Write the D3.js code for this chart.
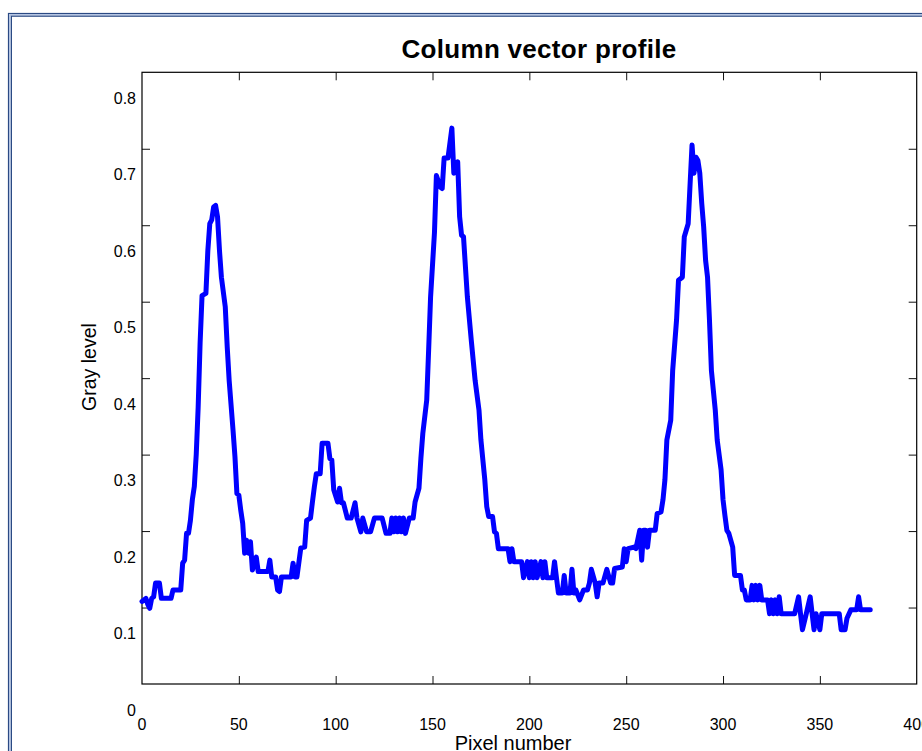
<!DOCTYPE html>
<html>
<head>
<meta charset="utf-8">
<script src="https://cdn.jsdelivr.net/npm/d3@7"></script>
<style>
  html, body { margin: 0; padding: 0; background: #fff; }
  svg { display: block; }
</style>
</head>
<body>
<svg id="chart" width="922" height="751"></svg>
<script>
// Column profile samples: pixel position along the column and its gray level
const pixelIndex = [
  0,2,3,4,5,6,7,9,10,15,
  16,20,21,22,23,24,25,26,27,28,
  29,30,31,33,34,35,36,37,38,39,
  40,41,43,44,45,47,48,49,50,51,
  52,53,54,55,56,57,59,60,65,66,
  67,69,70,71,72,77,78,79,80,82,
  84,85,87,88,89,90,92,93,96,97,
  98,99,101,102,103,104,106,108,110,111,
  113,114,116,118,120,124,126,128,129,130,
  131,132,133,134,135,136,138,140,141,143,
  144,145,147,148,149,151,152,154,155,156,
  158,160,161,163,164,165,166,168,170,172,
  174,175,176,177,178,179,181,182,183,184,
  189,190,191,192,196,197,199,200,201,202,
  203,204,206,207,208,209,212,213,214,215,
  217,218,219,221,222,223,224,226,228,230,
  231,232,234,235,236,238,240,242,243,244,
  248,249,250,251,254,255,257,258,259,260,
  261,262,265,266,268,269,270,271,273,274,
  276,277,279,280,282,283,284,285,286,287,
  288,289,290,291,292,293,294,296,297,299,
  300,301,302,303,305,306,309,310,311,312,
  314,315,316,317,318,319,320,323,324,325,
  326,327,328,329,330,337,339,340,341,343,
  345,346,347,348,350,351,360,361,363,364,
  366,369,370,371,376
];
const grayLevel = [
  0.108,0.112,0.104,0.099,0.112,0.114,0.132,0.132,0.112,0.112,
  0.123,0.123,0.158,0.162,0.197,0.197,0.214,0.241,0.258,0.300,
  0.362,0.446,0.508,0.511,0.567,0.602,0.607,0.624,0.626,0.611,
  0.567,0.532,0.493,0.441,0.397,0.332,0.297,0.249,0.247,0.227,
  0.210,0.171,0.188,0.171,0.186,0.149,0.166,0.147,0.147,0.162,
  0.140,0.140,0.123,0.121,0.140,0.140,0.158,0.140,0.140,0.178,
  0.179,0.214,0.217,0.238,0.258,0.275,0.275,0.315,0.315,0.295,
  0.293,0.254,0.238,0.256,0.237,0.237,0.217,0.217,0.237,0.217,
  0.199,0.217,0.199,0.199,0.217,0.217,0.197,0.197,0.217,0.199,
  0.217,0.199,0.217,0.199,0.217,0.197,0.217,0.217,0.238,0.256,
  0.295,0.328,0.371,0.437,0.506,0.590,0.665,0.650,0.648,0.688,
  0.688,0.727,0.668,0.683,0.611,0.587,0.585,0.506,0.450,0.397,
  0.358,0.319,0.293,0.267,0.232,0.219,0.219,0.199,0.197,0.177,
  0.177,0.160,0.177,0.160,0.160,0.139,0.160,0.139,0.160,0.139,
  0.160,0.139,0.160,0.139,0.160,0.139,0.139,0.160,0.139,0.119,
  0.119,0.142,0.119,0.119,0.150,0.119,0.123,0.110,0.123,0.123,
  0.132,0.150,0.132,0.114,0.132,0.132,0.150,0.132,0.132,0.151,
  0.153,0.177,0.160,0.177,0.179,0.177,0.201,0.162,0.201,0.201,
  0.179,0.201,0.201,0.223,0.225,0.241,0.267,0.319,0.345,0.410,
  0.476,0.528,0.532,0.585,0.602,0.654,0.705,0.668,0.689,0.685,
  0.668,0.629,0.598,0.554,0.532,0.476,0.410,0.358,0.319,0.280,
  0.241,0.220,0.201,0.197,0.179,0.142,0.142,0.123,0.123,0.110,
  0.110,0.129,0.110,0.129,0.110,0.129,0.110,0.110,0.092,0.110,
  0.092,0.110,0.092,0.114,0.092,0.092,0.114,0.092,0.071,0.092,
  0.114,0.092,0.071,0.092,0.071,0.092,0.092,0.071,0.071,0.086,
  0.097,0.097,0.114,0.097,0.097
];

// Axis ticks and labels
const xTickValues = [0, 50, 100, 150, 200, 250, 300, 350, 400];
const yTickValues = [0, 0.1, 0.2, 0.3, 0.4, 0.5, 0.6, 0.7, 0.8];
const yTickLabels = ["0", "0.1", "0.2", "0.3", "0.4", "0.5", "0.6", "0.7", "0.8"];
const titleText = "Column vector profile";
const xLabelText = "Pixel number";
const yLabelText = "Gray level";

const svg = d3.select("#chart");
const FONT = "'Liberation Sans', Arial, Helvetica, sans-serif";

// Plot box
const box = { left: 142, right: 916.7, top: 72.3, bottom: 684 };
const x = d3.scaleLinear().domain([0, 400]).range([box.left, box.right]);
const y = d3.scaleLinear().domain([0, 0.8]).range([box.bottom, box.top]);

// Page frame (double rule)
const frame = svg.append("g").attr("fill", "none");
frame.append("rect").attr("x", 8.5).attr("y", 13.5).attr("width", 2000).attr("height", 2000)
  .attr("stroke", "#2b4a84").attr("stroke-width", 1.2);
frame.append("rect").attr("x", 9.9).attr("y", 14.9).attr("width", 2000).attr("height", 2000)
  .attr("stroke", "#9fb4dc").attr("stroke-width", 1.2);
frame.append("rect").attr("x", 11.4).attr("y", 16.2).attr("width", 2000).attr("height", 2000)
  .attr("stroke", "#2b4a84").attr("stroke-width", 1.2);

// Inward tick marks on all four sides
const innerX = xTickValues.slice(1, -1);
const innerY = yTickValues.slice(1, -1);
const TL = 8;
const ticks = svg.append("g").attr("stroke", "#111").attr("stroke-width", 1);
ticks.append("g").attr("transform", `translate(0,${box.bottom})`)
  .call(d3.axisBottom(x).tickValues(innerX).tickSizeInner(-TL).tickSizeOuter(0).tickFormat(""));
ticks.append("g").attr("transform", `translate(0,${box.top})`)
  .call(d3.axisTop(x).tickValues(innerX).tickSizeInner(-TL).tickSizeOuter(0).tickFormat(""));
ticks.append("g").attr("transform", `translate(${box.left},0)`)
  .call(d3.axisLeft(y).tickValues(innerY).tickSizeInner(-TL).tickSizeOuter(0).tickFormat(""));
ticks.append("g").attr("transform", `translate(${box.right},0)`)
  .call(d3.axisRight(y).tickValues(innerY).tickSizeInner(-TL).tickSizeOuter(0).tickFormat(""));
ticks.selectAll(".domain").remove();
ticks.selectAll("line").attr("stroke", "#111");

// Box outline
svg.append("rect")
  .attr("x", box.left).attr("y", box.top)
  .attr("width", box.right - box.left).attr("height", box.bottom - box.top)
  .attr("fill", "none").attr("stroke", "#000").attr("stroke-width", 1.2);

// Profile line
const line = d3.line()
  .x((d, i) => x(pixelIndex[i]))
  .y((d, i) => y(grayLevel[i]));
svg.append("path")
  .datum(grayLevel)
  .attr("d", line)
  .attr("fill", "none")
  .attr("stroke", "#0000ff")
  .attr("stroke-width", 5)
  .attr("stroke-linejoin", "round")
  .attr("stroke-linecap", "round");

// X tick labels
svg.append("g").selectAll("text").data(xTickValues).join("text")
  .attr("x", d => x(d))
  .attr("y", 724.5)
  .attr("dy", "0.35em")
  .attr("text-anchor", "middle")
  .attr("font-family", FONT).attr("font-size", 16).attr("fill", "#000")
  .text(d => d);

// Y tick labels (set slightly below their tick marks)
const yLabelShift = 26;
svg.append("g").selectAll("text").data(yTickValues).join("text")
  .attr("x", 136)
  .attr("y", d => y(d) + yLabelShift)
  .attr("dy", "0.35em")
  .attr("text-anchor", "end")
  .attr("font-family", FONT).attr("font-size", 16).attr("fill", "#000")
  .text((d, i) => yTickLabels[i]);

// Title
svg.append("text")
  .attr("x", 539).attr("y", 58)
  .attr("text-anchor", "middle")
  .attr("font-family", FONT).attr("font-size", 26).attr("font-weight", "bold")
  .attr("letter-spacing", 0.3)
  .attr("fill", "#000")
  .text(titleText);

// Axis titles
svg.append("text")
  .attr("x", 513).attr("y", 750)
  .attr("text-anchor", "middle")
  .attr("font-family", FONT).attr("font-size", 20).attr("fill", "#000")
  .text(xLabelText);

svg.append("text")
  .attr("transform", "translate(96,367) rotate(-90)")
  .attr("text-anchor", "middle")
  .attr("font-family", FONT).attr("font-size", 19.5).attr("fill", "#000")
  .text(yLabelText);
</script>
</body>
</html>
